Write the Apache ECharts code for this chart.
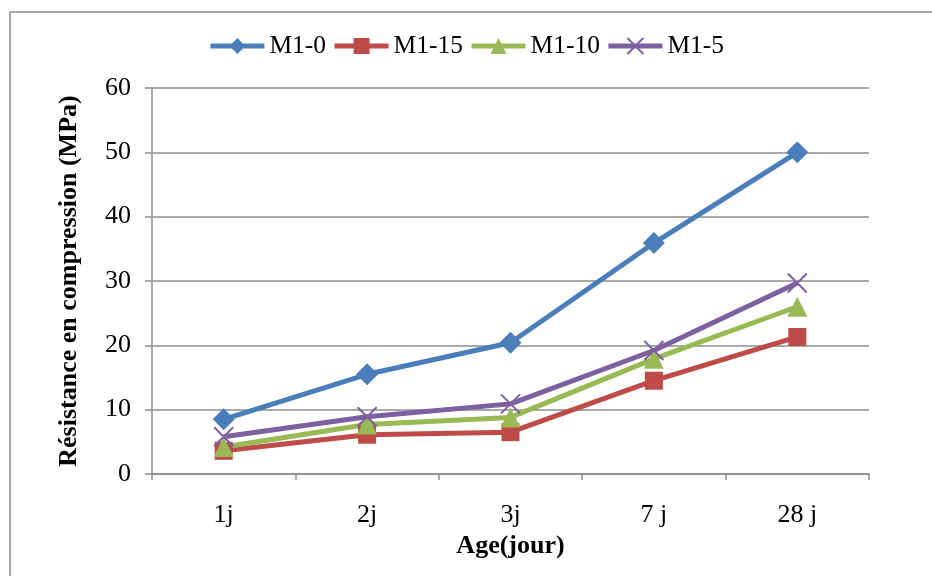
<!DOCTYPE html>
<html>
<head>
<meta charset="utf-8">
<script src="https://cdn.jsdelivr.net/npm/echarts@6/dist/echarts.min.js"></script>
<style>html,body{margin:0;padding:0;background:#fff}#c{width:932px;height:576px}</style>
</head>
<body>
<div id="c"></div>
<script>
const categories = ['1j', '2j', '3j', '7 j', '28 j'];
const m10 = [8.5, 15.5, 20.4, 35.9, 50.0];
const m115 = [3.6, 6.1, 6.5, 14.5, 21.3];
const m110 = [4.2, 7.7, 8.8, 17.9, 26.0];
const m15 = [5.8, 8.9, 10.9, 19.2, 29.7];
const yTicks = [0, 10, 20, 30, 40, 50, 60];

const FONT = 'Liberation Serif';
const chart = echarts.init(document.getElementById('c'), null, {renderer: 'canvas'});

function series(name, data, color, symbol, size, extra) {
  return Object.assign({
    name, type: 'line', data, symbol, symbolSize: size,
    lineStyle: {color, width: 5},
    itemStyle: {color, borderColor: color, borderWidth: 0},
    emphasis: {disabled: true},
    z: 3
  }, extra || {});
}

chart.setOption({
  animation: false,
  backgroundColor: '#fff',
  graphic: [{
    type: 'rect', shape: {x: 10, y: 12, width: 960, height: 620},
    style: {fill: 'none', stroke: '#8a8a8a', lineWidth: 1.5}, silent: true, z: -1
  }],
  textStyle: {fontFamily: FONT},
  legend: {
    top: 28, left: 'center',
    itemWidth: 54, itemHeight: 20, itemGap: 6,
    lineStyle: {width: 5},
    textStyle: {fontFamily: FONT, fontSize: 25.5, color: '#000'},
    data: ['M1-0', 'M1-15', 'M1-10', 'M1-5']
  },
  grid: {left: 152, right: 63, top: 88, bottom: 102, containLabel: false},
  xAxis: {
    type: 'category', data: categories, boundaryGap: true,
    name: 'Age(jour)', nameLocation: 'middle', nameGap: 55,
    nameTextStyle: {fontFamily: FONT, fontSize: 26, fontWeight: 'bold', color: '#000'},
    axisLine: {lineStyle: {color: '#8c8c8c', width: 1.5}},
    axisTick: {show: true, alignWithLabel: false, length: 6, lineStyle: {color: '#8c8c8c', width: 1.5}},
    axisLabel: {fontFamily: FONT, fontSize: 26, color: '#000', margin: 28},
    splitLine: {show: false}
  },
  yAxis: {
    type: 'value', min: 0, max: 60, interval: 10,
    name: 'Résistance en compression (MPa)', nameLocation: 'middle', nameGap: 70,
    nameTextStyle: {fontFamily: FONT, fontSize: 26, fontWeight: 'bold', color: '#000'},
    axisLine: {show: true, lineStyle: {color: '#8c8c8c', width: 1.5}},
    axisTick: {show: true, length: 7, lineStyle: {color: '#8c8c8c', width: 1.5}},
    axisLabel: {fontFamily: FONT, fontSize: 26, color: '#000', margin: 21,
      formatter: v => yTicks.includes(v) ? String(v) : ''},
    splitLine: {lineStyle: {color: '#8c8c8c', width: 1.5}}
  },
  series: [
    series('M1-0', m10, '#4A7EBB', 'diamond', 22),
    series('M1-15', m115, '#BE4B48', 'rect', 18),
    series('M1-10', m110, '#98B954', 'triangle', 20),
    series('M1-5', m15, '#7D60A0', 'path://M0,0L10,10M10,0L0,10', 19,
      {itemStyle: {color: 'none', borderColor: '#7D60A0', borderWidth: 2}})
  ]
});
</script>
</body>
</html>
